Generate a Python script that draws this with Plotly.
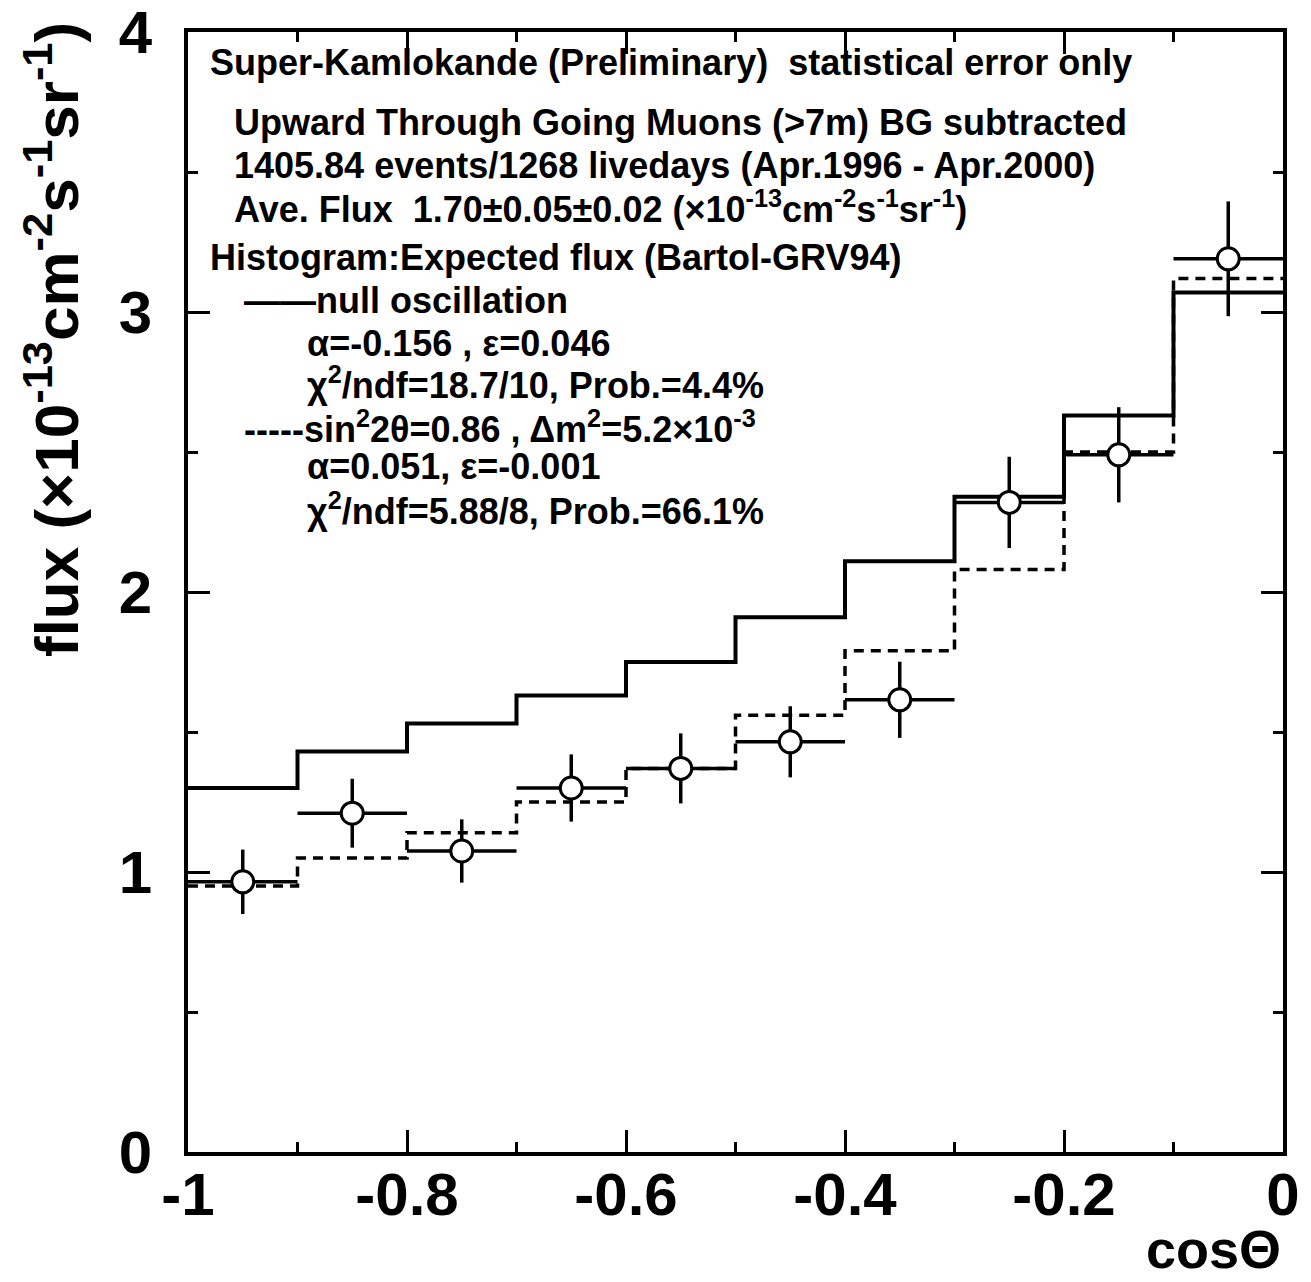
import plotly.graph_objects as go

# ---- data ----
bin_edges = [-1.0, -0.9, -0.8, -0.7, -0.6, -0.5, -0.4, -0.3, -0.2, -0.1, 0.0]
null_osc = [1.30, 1.43, 1.53, 1.63, 1.75, 1.91, 2.11, 2.34, 2.63, 3.07]
best_fit_osc = [0.95, 1.05, 1.14, 1.25, 1.37, 1.56, 1.79, 2.08, 2.50, 3.12]
data_x = [-0.95, -0.85, -0.75, -0.65, -0.55, -0.45, -0.35, -0.25, -0.15, -0.05]
data_y = [0.965, 1.21, 1.075, 1.30, 1.37, 1.465, 1.615, 2.32, 2.49, 3.19]
data_err = [0.115, 0.123, 0.113, 0.12, 0.125, 0.127, 0.136, 0.163, 0.17, 0.205]
half_bin = [0.05] * 10

x_tickvals = [-1, -0.8, -0.6, -0.4, -0.2, 0]
x_ticktext = ["-1", "-0.8", "-0.6", "-0.4", "-0.2", "0"]
y_tickvals = [0, 1, 2, 3, 4]
y_ticktext = ["0", "1", "2", "3", "4"]

text_lines = [
    "Super-Kamlokande (Preliminary)  statistical error only",
    "Upward Through Going Muons (>7m) BG subtracted",
    "1405.84 events/1268 livedays (Apr.1996 - Apr.2000)",
    "Ave. Flux  1.70±0.05±0.02 (×10<sup>-13</sup>cm<sup>-2</sup>s<sup>-1</sup>sr<sup>-1</sup>)",
    "Histogram:Expected flux (Bartol-GRV94)",
    "——null oscillation",
    "α=-0.156 , ε=0.046",
    "χ<sup>2</sup>/ndf=18.7/10, Prob.=4.4%",
    "-----sin<sup>2</sup>2θ=0.86 , Δm<sup>2</sup>=5.2×10<sup>-3</sup>",
    "α=0.051, ε=-0.001",
    "χ<sup>2</sup>/ndf=5.88/8, Prob.=66.1%",
]

FONT = "Liberation Sans"

fig = go.Figure()

# histograms (step)
fig.add_trace(go.Scatter(
    x=bin_edges, y=null_osc + [null_osc[-1]], mode="lines",
    line=dict(shape="hv", color="black", width=4), showlegend=False))
fig.add_trace(go.Scatter(
    x=bin_edges, y=best_fit_osc + [best_fit_osc[-1]], mode="lines",
    line=dict(shape="hv", color="black", width=3.5, dash="10px,7px"), showlegend=False))

# data points
fig.add_trace(go.Scatter(
    x=data_x, y=data_y, mode="markers",
    marker=dict(symbol="circle", size=22, color="white", line=dict(color="black", width=3)),
    error_y=dict(type="data", array=data_err, visible=True, thickness=3.5, width=0, color="black"),
    error_x=dict(type="data", array=half_bin, visible=True, thickness=3.5, width=0, color="black"),
    showlegend=False))

# text block (pixel-derived positions in paper coords; plot area 188..1283 x 32..1152)
W0, WL = 188, 1095
H0, HL = 1152, 1120
def px(xp):
    return (xp - W0) / WL
def py(yp):
    return (H0 - yp) / HL

line_pos = [(208, 62), (232, 122), (232, 165), (232, 207), (208, 258),
            (242, 300), (305, 343), (305, 383), (242, 427), (305, 467), (305, 509)]
for t, (xp, yp) in zip(text_lines, line_pos):
    fig.add_annotation(text=t, xref="paper", yref="paper", x=px(xp), y=py(yp),
                       xanchor="left", yanchor="middle", showarrow=False,
                       font=dict(family=FONT, size=36, color="black", weight="bold"))

# axis titles as annotations
fig.add_annotation(text="flux (×10<sup>-13</sup>cm<sup>-2</sup>s<sup>-1</sup>sr<sup>-1</sup>)",
                   xref="paper", yref="paper", x=px(52), y=py(340), textangle=-90,
                   xanchor="center", yanchor="middle", showarrow=False,
                   font=dict(family=FONT, size=62, color="black", weight="bold"))
fig.add_annotation(text="cosΘ", xref="paper", yref="paper", x=px(1283), y=py(1249),
                   xanchor="right", yanchor="middle", showarrow=False,
                   font=dict(family=FONT, size=54, color="black", weight="bold"))

axis_common = dict(showline=True, linecolor="black", linewidth=4, mirror="ticks",
                   ticks="inside", tickcolor="black", tickwidth=3, showgrid=False,
                   zeroline=False, automargin=False, ticklabeloverflow="allow",
                   tickfont=dict(family=FONT, size=60, color="black", weight="bold"))

fig.update_xaxes(range=[-1, 0], tickvals=x_tickvals, ticktext=x_ticktext, ticklen=22,
                 minor=dict(dtick=0.1, ticks="inside", ticklen=10, tickwidth=3, tickcolor="black", showgrid=False),
                 ticklabelstandoff=-13, **axis_common)
fig.update_yaxes(range=[0, 4], tickvals=y_tickvals, ticktext=y_ticktext, ticklen=22,
                 minor=dict(dtick=0.5, ticks="inside", ticklen=10, tickwidth=3, tickcolor="black", showgrid=False),
                 ticklabelstandoff=20, **axis_common)

# page body has an 8px margin, so offset the figure margins to land the plot area at 188..1283 x 32..1152
fig.update_layout(width=1311, height=1282, autosize=False,
                  margin=dict(l=180, r=36, t=24, b=138),
                  plot_bgcolor="white", paper_bgcolor="white")

fig.write_html("out.html")
